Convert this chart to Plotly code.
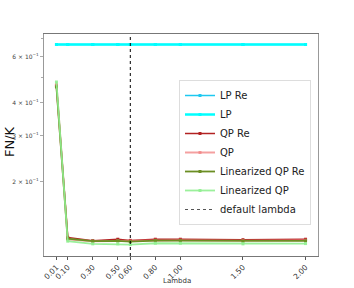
import plotly.graph_objects as go

lambdas = [0.01, 0.1, 0.3, 0.5, 0.6, 0.8, 1.0, 1.5, 2.0]
x_tick_labels = ["0.01", "0.10", "0.30", "0.50", "0.60", "0.80", "1.00", "1.50", "2.00"]

lp_re = [0.667, 0.667, 0.667, 0.667, 0.667, 0.667, 0.667, 0.667, 0.667]
lp = [0.667, 0.667, 0.667, 0.667, 0.667, 0.667, 0.667, 0.667, 0.667]
qp_re = [0.465, 0.123, 0.1195, 0.121, 0.1198, 0.121, 0.121, 0.1205, 0.121]
qp = [0.47, 0.121, 0.119, 0.1195, 0.119, 0.12, 0.12, 0.1195, 0.12]
lin_qp_re = [0.46, 0.1215, 0.119, 0.1193, 0.1185, 0.1195, 0.1195, 0.119, 0.1193]
lin_qp = [0.48, 0.119, 0.1162, 0.1162, 0.1155, 0.1168, 0.1168, 0.1162, 0.1165]

default_lambda = 0.6

y_tick_vals = [0.2, 0.3, 0.4, 0.6]
y_tick_text = ["2 × 10<sup>−1</sup>", "3 × 10<sup>−1</sup>", "4 × 10<sup>−1</sup>",
               "6 × 10<sup>−1</sup>"]
y_minor_vals = [0.5, 0.7]

series = [
    ("LP Re", lp_re, "#1ec8f0", 1.5, 3),
    ("LP", lp, "#00ffff", 2.5, 3),
    ("QP Re", qp_re, "#b22222", 1.5, 3),
    ("QP", qp, "rgba(240,128,128,0.75)", 2.0, 3),
    ("Linearized QP Re", lin_qp_re, "#6b8e23", 1.8, 3),
    ("Linearized QP", lin_qp, "rgba(144,238,144,0.9)", 1.8, 3),
]

fig = go.Figure()
for name, ys, color, w, ms in series:
    fig.add_trace(go.Scatter(
        x=lambdas, y=ys, name=name, mode="lines+markers",
        line=dict(color=color, width=w),
        marker=dict(color=color, size=ms, symbol="square"),
    ))

fig.add_trace(go.Scatter(
    x=[None], y=[None], name="default lambda", mode="lines",
    line=dict(color="#555", width=1, dash="dot"),
))
fig.add_vline(x=default_lambda, line=dict(color="black", width=1, dash="dot"))

W, H = 354, 288
L, R, T, B = 44, 36, 34, 32
PW, PH = W - L - R, H - T - B
PL, PB = L, H - B  # pixel of plot left / bottom

fig.update_layout(
    width=W, height=H,
    margin=dict(l=L, r=R, t=T, b=B, autoexpand=False),
    paper_bgcolor="white", plot_bgcolor="white",
    font=dict(family="DejaVu Sans", color="#222"),
    showlegend=True,
    legend=dict(
        x=(179 - PL) / PW, y=(PB - 80) / PH, xanchor="left", yanchor="top",
        bgcolor="white", bordercolor="#dddddd", borderwidth=1,
        font=dict(size=10, color="#222"),
        itemwidth=30,
    ),
    xaxis=dict(
        range=[-0.0895, 2.0995], automargin=False,
        tickmode="array", tickvals=lambdas, ticktext=x_tick_labels,
        tickangle=-45, tickfont=dict(size=7.5, color="#333"),
        ticks="outside", ticklen=3, tickcolor="#555",
        showgrid=False, zeroline=False,
        showline=True, linecolor="#777", linewidth=1, mirror=True,
    ),
    yaxis=dict(
        type="log", range=[-0.981, -0.136], automargin=False,
        tickmode="array", tickvals=y_tick_vals, ticktext=y_tick_text,
        tickfont=dict(size=6, color="#444"),
        ticks="outside", ticklen=3, tickcolor="#aaa",
        minor=dict(tickmode="array", tickvals=y_minor_vals, ticks="outside",
                   ticklen=2, tickcolor="#aaa", showgrid=False),
        showgrid=False, zeroline=False,
        showline=True, linecolor="#999", linewidth=1, mirror=True,
    ),
    annotations=[
        dict(text="FN/K", x=(9 - PL) / PW, y=(PB - 142) / PH, xref="paper", yref="paper",
             showarrow=False, textangle=-90, xanchor="center", yanchor="middle",
             font=dict(size=13, color="#111")),
        dict(text="Lambda", x=(177 - PL) / PW, y=(PB - 281) / PH, xref="paper", yref="paper",
             showarrow=False, xanchor="center", yanchor="middle",
             font=dict(size=7, color="#333")),
    ],
)

fig.write_html("out.html",
               config={"displayModeBar": False},
               post_script="document.body.style.margin='0';document.body.style.overflow='hidden';")
